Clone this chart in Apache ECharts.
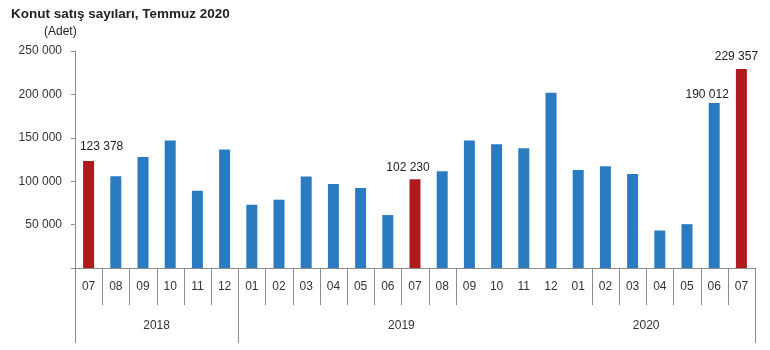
<!DOCTYPE html>
<html><head><meta charset="utf-8">
<script src="https://cdn.jsdelivr.net/npm/echarts@6/dist/echarts.min.js"></script>
<style>html,body{margin:0;padding:0;background:#fff}#c{width:770px;height:350px}</style>
</head><body><div id="c"></div>
<script>
const months = ['07','08','09','10','11','12','01','02','03','04','05','06','07','08','09','10','11','12','01','02','03','04','05','06','07'];
const values = [123378,105800,128000,147000,89000,136500,72900,78700,105500,96800,92200,61000,102230,111500,147000,142700,138000,202000,112800,117300,108400,43200,50500,190012,229357];
const redBars = [0,12,24];
const labeledBars = [0,12,23,24];
const years = ['2018','2019','2020'];
const yearLabelAt = [2.5, 11.5, 20.5];
const yearBoundaries = [0, 6, 25];
const hiddenMonthTicks = [15,16,17,18];

const FONT = "'Liberation Sans', Arial, sans-serif";
const BLUE = '#2b7bc0', RED = '#b0191e', AX = '#8c8c8c';
const fmt = n => String(n).replace(/\B(?=(\d{3})+(?!\d))/g, ' ');
const labelOffsets = {0:[13,-3], 12:[-7,-1], 23:[-7,3], 24:[-5,-1]};

const data = values.map((v, i) => {
  const item = { value: v, itemStyle: { color: redBars.includes(i) ? RED : BLUE } };
  if (labeledBars.includes(i)) {
    item.label = { show: true, position: 'top', offset: labelOffsets[i], formatter: p => fmt(p.value),
      fontFamily: FONT, fontSize: 12, color: '#222' };
  }
  return item;
});

const chart = echarts.init(document.getElementById('c'), null, { renderer: 'canvas' });
chart.setOption({
  animation: false,
  backgroundColor: '#fff',
  title: [
    { text: 'Konut satış sayıları, Temmuz 2020', left: 6, top: 2,
      textStyle: { fontFamily: FONT, fontSize: 13.5, fontWeight: 'bold', color: '#222' } },
    { text: '(Adet)', left: 39, top: 21,
      textStyle: { fontFamily: FONT, fontSize: 12, fontWeight: 'normal', color: '#222' } }
  ],
  grid: { left: 75, right: 15, top: 51, bottom: 82, containLabel: false },
  xAxis: {
    type: 'category', data: months, position: 'bottom',
    axisLine: { lineStyle: { color: AX, width: 1 } },
    axisTick: { show: false },
    axisLabel: { interval: 0, margin: 13, fontFamily: FONT, fontSize: 12, color: '#333' }
  },
  yAxis: {
    type: 'value', min: 0, max: 250000, interval: 50000,
    axisLine: { show: true, lineStyle: { color: AX } },
    axisTick: { show: true, length: 4, lineStyle: { color: AX } },
    splitLine: { show: false },
    axisLabel: { margin: 13, fontFamily: FONT, fontSize: 12, color: '#333',
      formatter: v => v === 0 ? '' : fmt(v) }
  },
  series: [{ type: 'bar', data: data, barWidth: 11 }]
});

const yPix = chart.convertToPixel({ xAxisIndex: 0, yAxisIndex: 0 }, [0, 0])[1];
const c0 = chart.convertToPixel({ xAxisIndex: 0 }, 0);
const band = chart.convertToPixel({ xAxisIndex: 0 }, 1) - c0;
const xAt = (pos) => c0 + band * pos;
const graphics = [];
for (let k = 0; k <= months.length; k++) {
  const isYear = yearBoundaries.includes(k);
  if (!isYear && hiddenMonthTicks.includes(k)) continue;
  const x = Math.round(xAt(k - 0.5)) + 0.5;
  graphics.push({ type: 'line', silent: true,
    shape: { x1: x, y1: yPix, x2: x, y2: yPix + (isYear ? 75 : 37) },
    style: { stroke: AX, lineWidth: 1 } });
}
years.forEach((y, k) => graphics.push({
  type: 'text', x: xAt(yearLabelAt[k]), y: yPix + 58,
  style: { text: y, fontFamily: FONT, fontSize: 12, fill: '#333', align: 'center', verticalAlign: 'middle' }
}));
chart.setOption({ graphic: graphics });
</script></body></html>
